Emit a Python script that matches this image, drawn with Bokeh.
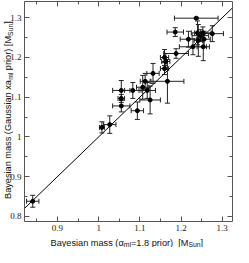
import numpy as np
from bokeh.plotting import figure
from bokeh.models import (ColumnDataSource, Whisker, TeeHead, Range1d, LinearAxis,
                          FixedTicker, CustomJSTickFormatter, Label)
from bokeh.embed import file_html
from bokeh.resources import INLINE

# ---- data ----
mass_alpha = [0.840, 1.008, 1.027, 1.055, 1.055, 1.055, 1.094, 1.083, 1.107, 1.118,
              1.125, 1.113, 1.132, 1.160, 1.167, 1.163, 1.160, 1.188, 1.186, 1.237,
              1.218, 1.229, 1.242, 1.254, 1.256, 1.276, 1.247, 1.240, 1.253]
mass_gauss = [0.838, 1.024, 1.031, 1.078, 1.097, 1.117, 1.066, 1.117, 1.125, 1.117,
              1.093, 1.140, 1.160, 1.172, 1.140, 1.190, 1.200, 1.210, 1.264, 1.299,
              1.246, 1.227, 1.243, 1.227, 1.246, 1.260, 1.255, 1.262, 1.262]
err_alpha = [0.015, 0.006, 0.015, 0.021, 0.008, 0.021, 0.015, 0.020, 0.015, 0.020,
             0.025, 0.012, 0.015, 0.010, 0.040, 0.010, 0.010, 0.030, 0.020, 0.053,
             0.020, 0.033, 0.010, 0.015, 0.015, 0.027, 0.020, 0.015, 0.020]
err_gauss = [0.015, 0.014, 0.022, 0.015, 0.010, 0.025, 0.022, 0.020, 0.030, 0.020,
             0.035, 0.020, 0.025, 0.015, 0.055, 0.020, 0.020, 0.012, 0.011, 0.002,
             0.020, 0.020, 0.040, 0.035, 0.020, 0.020, 0.015, 0.030, 0.015]

identity_line = [0.82, 1.325]
x_ticks = [0.9, 1.0, 1.1, 1.2, 1.3]
x_minor = [0.85, 0.95, 1.05, 1.15, 1.25]
y_ticks = [0.8, 0.9, 1.0, 1.1, 1.2, 1.3]
y_minor = [0.85, 0.95, 1.05, 1.15, 1.25]

NB = "\u00a0"  # non-collapsing space for SVG text
x_label_parts = [("Bayesian mass (\u03b1", False), ("ml", True),
                 ("=1.8 prior)" + NB + NB + "[M", False), ("Sun", True), ("]", False)]
y_label_parts = [("Bayesian mass (Gaussian xa", False), ("ml", True),
                 (NB + "prior) [M", False), ("Sun", True), ("]", False)]

# ---- geometry: visible box inside a full-figure frame ----
FIG_W, FIG_H = 233, 247
BOX_L, BOX_R, BOX_T, BOX_B = 24, 232, 1, 221      # box edges in figure pixels
XB = (0.82, 1.325)                                  # box data limits
YB = (0.787, 1.341)
kx = (BOX_R - BOX_L) / (XB[1] - XB[0])
ky = (BOX_B - BOX_T) / (YB[1] - YB[0])
XR = (XB[0] - BOX_L / kx, XB[1] + (FIG_W - BOX_R) / kx)
YR = (YB[0] - (FIG_H - BOX_B) / ky, YB[1] + BOX_T / ky)

p = figure(width=FIG_W, height=FIG_H, x_range=Range1d(*XR), y_range=Range1d(*YR),
           output_backend="svg", toolbar_location=None,
           min_border=0, min_border_left=0, min_border_right=0,
           min_border_top=0, min_border_bottom=0,
           x_axis_location=None, y_axis_location=None)
p.xgrid.visible = False
p.ygrid.visible = False
p.outline_line_color = None
p.background_fill_color = "white"
p.border_fill_color = "white"

AX_COL = "#555555"
fmt = CustomJSTickFormatter(code="return String(Math.round(tick*10)/10)")
blank = CustomJSTickFormatter(code="return ''")


def style_axis(ax, ticks, minor, labels=True, ticks_out=False):
    ax.ticker = FixedTicker(ticks=ticks, minor_ticks=minor)
    ax.axis_line_color = AX_COL
    ax.major_tick_line_color = AX_COL
    ax.minor_tick_line_color = AX_COL
    major, minor_len = 5, 3
    ax.major_tick_in = 0 if ticks_out else major
    ax.major_tick_out = major if ticks_out else 0
    ax.minor_tick_in = 0 if ticks_out else minor_len
    ax.minor_tick_out = minor_len if ticks_out else 0
    if labels:
        ax.formatter = fmt
        ax.major_label_text_font = "Liberation Serif"
        ax.major_label_text_font_size = "9px"
        ax.major_label_text_color = "#222222"
    else:
        ax.formatter = blank
        ax.major_label_standoff = 0


# bottom and left axes (labelled)
xb = LinearAxis(fixed_location=YB[0], bounds=XB)
style_axis(xb, x_ticks, x_minor)
xb.major_label_standoff = 3
p.add_layout(xb, "below")
yl = LinearAxis(fixed_location=XB[0], bounds=YB)
style_axis(yl, y_ticks, y_minor)
yl.major_label_standoff = 3
p.add_layout(yl, "left")
# top and right edges of the box: mirror axes whose "outward" ticks point into the box
xt = LinearAxis(fixed_location=YB[1], bounds=XB)
style_axis(xt, x_ticks, x_minor, labels=False, ticks_out=True)
p.add_layout(xt, "below")
yr = LinearAxis(fixed_location=XB[1], bounds=YB)
style_axis(yr, y_ticks, y_minor, labels=False, ticks_out=True)
p.add_layout(yr, "left")

# ---- data glyphs ----
src = ColumnDataSource(dict(
    x=mass_alpha, y=mass_gauss,
    x_lo=[a - e for a, e in zip(mass_alpha, err_alpha)],
    x_hi=[a + e for a, e in zip(mass_alpha, err_alpha)],
    y_lo=[a - e for a, e in zip(mass_gauss, err_gauss)],
    y_hi=[a + e for a, e in zip(mass_gauss, err_gauss)],
))

p.line(identity_line, identity_line, line_color="black", line_width=1)

ERR_COL = "#222222"
for base, lo, hi, dim in (("y", "x_lo", "x_hi", "width"), ("x", "y_lo", "y_hi", "height")):
    p.add_layout(Whisker(source=src, base=base, lower=lo, upper=hi, dimension=dim,
                         line_color=ERR_COL, line_width=1,
                         lower_head=TeeHead(size=5, line_color=ERR_COL, line_width=1),
                         upper_head=TeeHead(size=5, line_color=ERR_COL, line_width=1)))
p.scatter("x", "y", source=src, size=4, color="black")

# ---- axis titles with subscripts ----
W = {'B': 667, 'a': 556, 'y': 500, 'e': 556, 's': 500, 'i': 222, 'n': 556, ' ': 278,
     NB: 278, 'm': 833, '(': 333, ')': 333, '\u03b1': 578, 'l': 222, '=': 584, '1': 556,
     '.': 278, '8': 556, 'p': 556, 'r': 333, 'o': 556, '[': 278, ']': 278, 'M': 833,
     'S': 667, 'u': 556, 'G': 778, 'x': 500}
FS, SFS = 9.2, 6.8


def tw(s, size):
    return sum(W.get(c, 556) for c in s) * size / 1000.0


# x title
pos = 26.0
for txt, sub in x_label_parts:
    size = SFS if sub else FS
    p.add_layout(Label(x=XB[0], y=YB[0], x_offset=pos, y_offset=-21 - (2.2 if sub else 0),
                       text=txt, text_font="Liberation Sans", text_font_size=f"{size}px",
                       text_align="left", text_baseline="alphabetic", text_color="#111111"))
    pos += tw(txt, size)

# y title (rotated)
pos = 22.5
for txt, sub in y_label_parts:
    size = SFS if sub else FS
    p.add_layout(Label(x=XB[0], y=YB[0], x_offset=-16.5 + (2.2 if sub else 0), y_offset=pos,
                       angle=np.pi / 2, text=txt, text_font="Liberation Sans",
                       text_font_size=f"{size}px", text_align="left",
                       text_baseline="alphabetic", text_color="#111111"))
    pos += tw(txt, size)

open("out.html", "w").write(file_html(p, INLINE))
